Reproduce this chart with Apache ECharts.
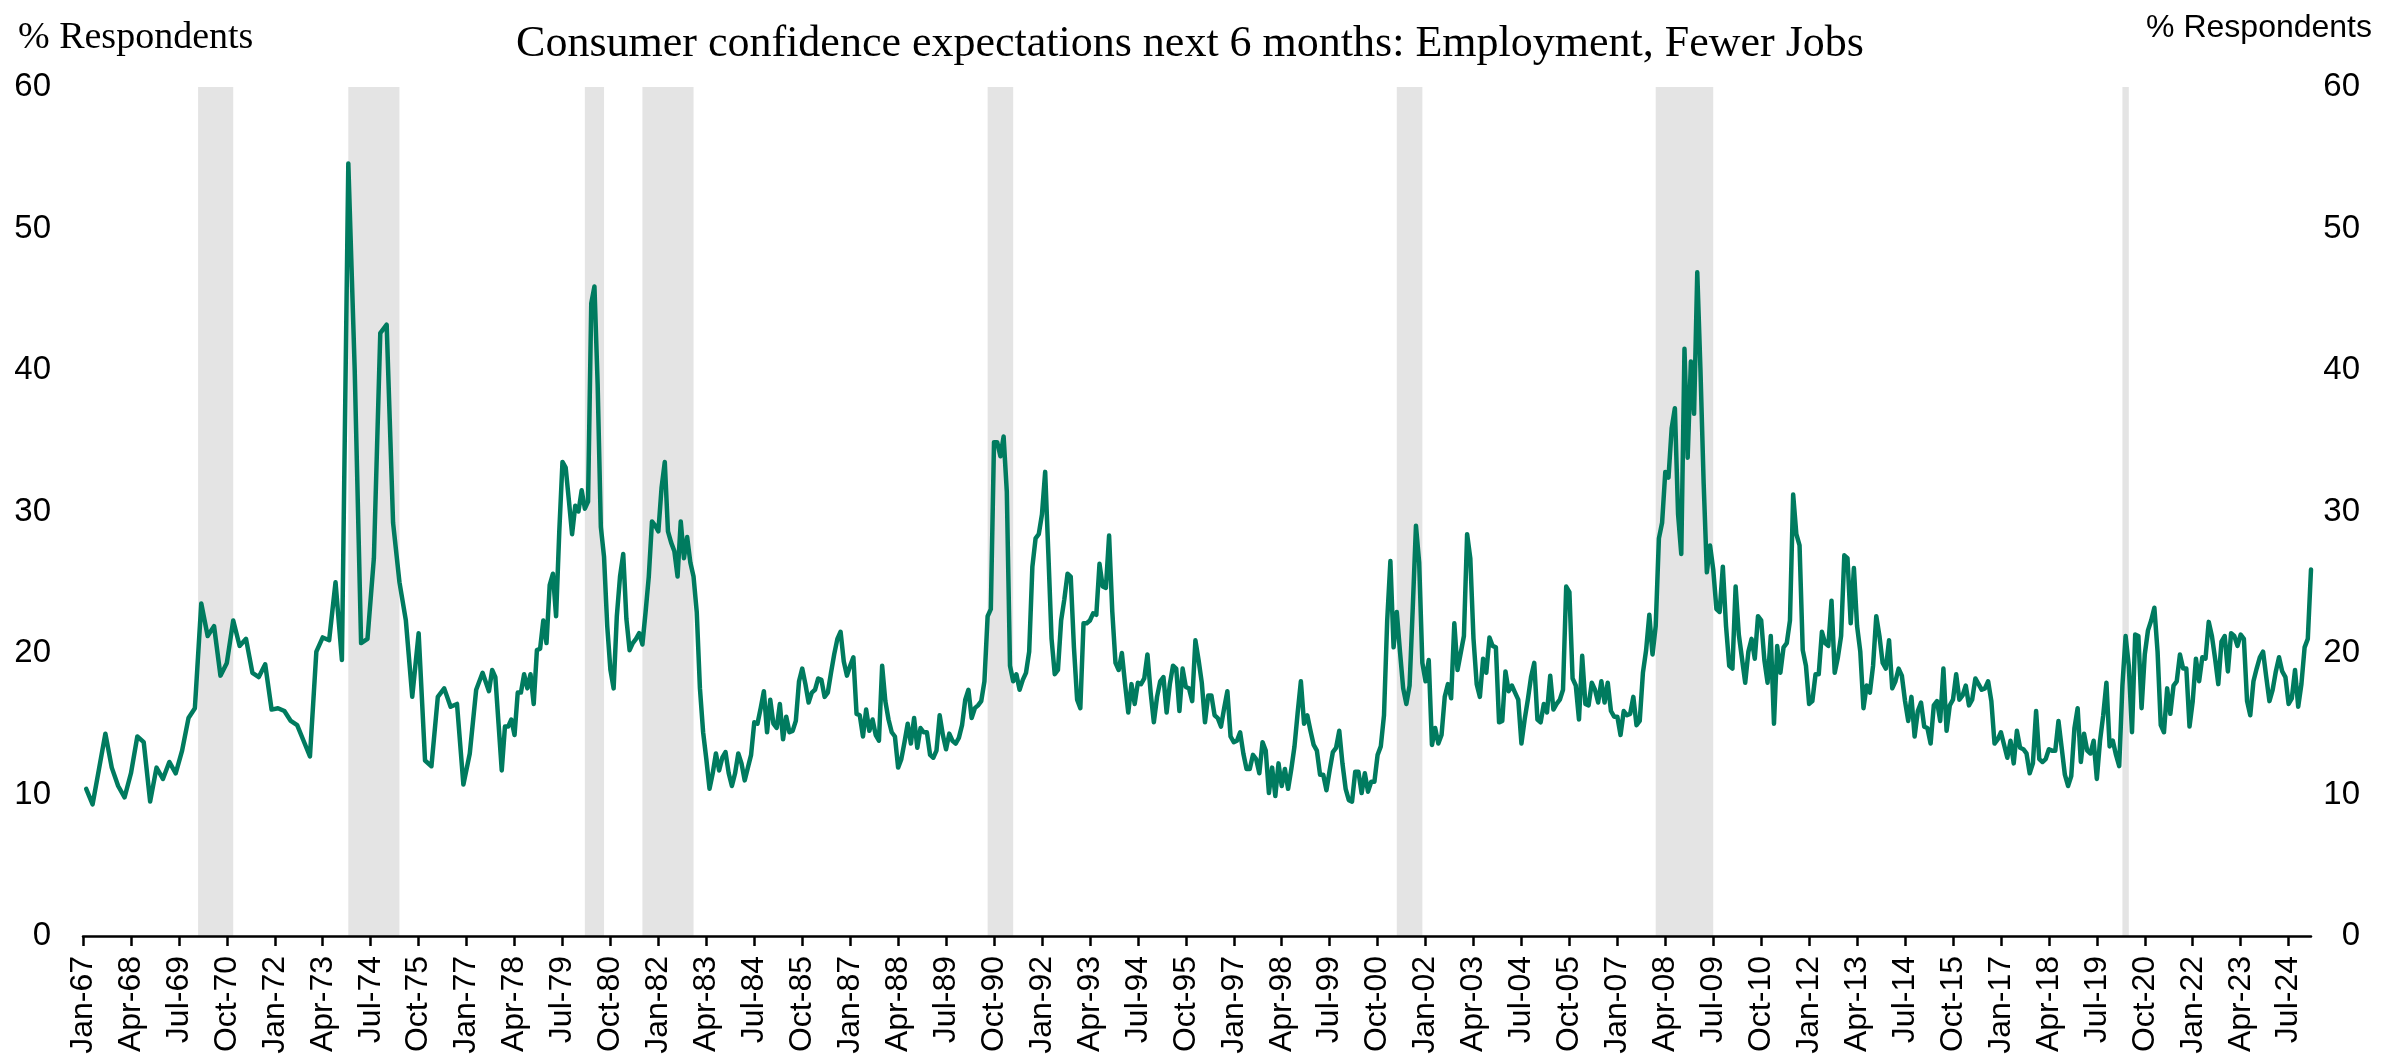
<!DOCTYPE html>
<html>
<head>
<meta charset="utf-8">
<title>Consumer confidence expectations: Employment, Fewer Jobs</title>
<script src="https://cdn.jsdelivr.net/npm/echarts@6/dist/echarts.min.js"></script>
<style>
  html, body { margin: 0; padding: 0; background: #fff; }
  #chart-root { width: 2389px; height: 1064px; }
</style>
</head>
<body>
<div id="chart-root"></div>
<script>
// survey was bi-monthly until 1977: Feb-67, Apr-67, ... (every other month)
const bimonthly67to77 = [
  10.4, 9.3, 11.8, 14.3, 11.9, 10.6, 9.8, 11.5, 14.1, 13.7,
  9.5, 11.9, 11.1, 12.3, 11.5, 13.1, 15.4, 16.1, 23.5, 21.2,
  21.9, 18.4, 19.3, 22.3, 20.5, 21.0, 18.6, 18.3, 19.2, 16.0,
  16.1, 15.9, 15.2, 14.9, 13.8, 12.7, 20.1, 21.1, 20.9, 25.0,
  19.5, 54.6, 40.0, 20.7, 21.0, 26.7, 42.6, 43.2, 29.2, 25.0,
  22.3, 16.9, 21.4, 12.4, 12.0, 16.9, 17.5, 16.2, 16.4, 10.7,
  12.9, 17.4, 18.6, 17.3
];
// monthly from Sep-77
const monthly77to84 = [
  18.8, 18.3, 15.0, 11.7, 14.8, 14.8, 15.3, 14.2, 17.2, 17.2,
  18.5, 17.5, 18.5, 16.4, 20.2, 20.3, 22.3, 20.7, 24.8, 25.6,
  22.6, 28.6, 33.5, 33.1, 30.8, 28.4, 30.4, 30.0, 31.5, 30.2,
  30.7, 44.7, 45.9, 39.0, 28.9, 26.8, 21.9, 18.8, 17.5, 22.6,
  25.4, 27.0, 22.4, 20.2, 20.7, 21.0, 21.4, 20.6, 22.9, 25.4,
  29.3, 29.0, 28.6, 31.7, 33.5, 28.6, 27.8, 27.2, 25.4, 29.3,
  26.7, 28.2, 26.4, 25.4, 22.9, 17.5, 14.4, 12.5, 10.4, 11.5,
  12.9, 11.7, 12.6, 13.0, 11.5, 10.6, 11.5, 12.9, 12.2, 11.0,
  11.9, 12.8, 15.1, 15.0, 16.1, 17.3, 14.4, 16.7
];
const monthly85to92 = [
  15.0, 14.7, 16.4, 13.9, 15.5, 14.4, 14.5, 15.2, 18.0, 18.9,
  17.8, 16.5, 17.2, 17.4, 18.2, 18.1, 16.9, 17.2, 18.6, 19.9,
  21.0, 21.5, 19.4, 18.4, 19.1, 19.7, 15.7, 15.6, 14.1, 16.0,
  14.5, 15.3, 14.2, 13.8, 19.1, 16.6, 15.3, 14.4, 14.1, 11.9,
  12.5, 13.7, 15.0, 13.6, 15.4, 13.3, 14.7, 14.4, 14.4, 12.8,
  12.6, 13.1, 15.6, 14.2, 13.2, 14.3, 13.8, 13.6, 14.0, 14.9,
  16.7, 17.4, 15.4, 16.1, 16.3, 16.6, 18.0, 22.6, 23.1, 34.9,
  34.9, 33.9, 35.3, 31.4, 19.1, 18.0, 18.5, 17.4, 18.1, 18.6,
  20.1, 26.1, 28.1, 28.4, 29.8, 32.8, 27.0, 21.0, 18.5, 18.8,
  22.3, 23.8, 25.6, 25.4, 20.4, 16.7
];
const monthly93to00 = [
  16.1, 22.1, 22.1, 22.3, 22.8, 22.7, 26.3, 24.7, 24.6, 28.3,
  22.9, 19.3, 18.8, 20.0, 17.8, 15.8, 17.8, 16.4, 17.9, 17.8,
  18.2, 19.9, 17.2, 15.1, 16.9, 18.0, 18.3, 15.8, 17.8, 19.1,
  18.9, 15.9, 18.9, 17.6, 17.5, 16.6, 20.9, 19.5, 17.9, 15.1,
  17.0, 17.0, 15.6, 15.4, 14.8, 16.1, 17.3, 14.1, 13.7, 13.8,
  14.4, 12.9, 11.8, 11.8, 12.8, 12.5, 11.5, 13.7, 13.1, 10.1,
  11.9, 9.9, 12.2, 10.6, 11.8, 10.4, 11.8, 13.4, 15.8, 18.0,
  15.0, 15.6, 14.5, 13.5, 13.1, 11.4, 11.4, 10.3, 11.7, 13.0,
  13.3, 14.5, 12.2, 10.4, 9.6, 9.5, 11.6, 11.6, 10.1, 11.5,
  10.2, 10.9, 10.9, 12.8, 13.4, 15.6
];
const monthly01to08 = [
  22.3, 26.5, 20.4, 22.9, 20.1, 17.5, 16.4, 17.7, 23.2, 29.0,
  26.4, 19.3, 18.0, 19.5, 13.5, 14.7, 13.6, 14.2, 16.9, 17.8,
  16.8, 22.1, 18.8, 20.0, 21.2, 28.4, 26.7, 21.0, 17.8, 16.9,
  19.6, 18.6, 21.1, 20.5, 20.4, 15.1, 15.2, 18.7, 17.3, 17.7,
  17.2, 16.7, 13.6, 15.3, 16.7, 18.3, 19.3, 15.3, 15.1, 16.4,
  15.8, 18.4, 16.0, 16.4, 16.7, 17.4, 24.7, 24.3, 18.2, 17.7,
  15.3, 19.8, 16.4, 16.3, 17.9, 17.4, 16.5, 18.0, 16.5, 17.9,
  15.9, 15.5, 15.5, 14.2, 15.9, 15.6, 15.7, 16.9, 14.9, 15.2,
  18.6, 20.2, 22.7, 19.9, 21.9, 28.1, 29.2, 32.8, 32.4, 35.9,
  37.3, 29.8, 27.0, 41.5, 33.8, 40.6
];
const monthly09to16 = [
  36.9, 46.9, 40.0, 32.0, 25.7, 27.6, 25.9, 23.1, 22.9, 26.1,
  21.9, 19.1, 18.9, 24.7, 21.3, 19.6, 17.9, 20.1, 21.0, 19.6,
  22.6, 22.3, 19.5, 17.9, 21.2, 15.0, 20.5, 18.6, 20.4, 20.7,
  22.3, 31.2, 28.4, 27.6, 20.2, 19.1, 16.4, 16.6, 18.5, 18.5,
  21.5, 20.7, 20.5, 23.7, 18.6, 19.7, 21.2, 26.9, 26.7, 22.1,
  26.0, 21.9, 20.1, 16.1, 17.7, 17.2, 19.1, 22.6, 21.2, 19.3,
  18.9, 20.9, 17.5, 18.0, 18.9, 18.4, 16.6, 15.2, 16.9, 14.1,
  15.9, 16.5, 14.8, 14.7, 13.6, 16.3, 16.6, 15.2, 18.9, 14.5,
  16.3, 16.7, 18.5, 16.7, 17.0, 17.7, 16.3, 16.7, 18.2, 17.8,
  17.4, 17.5, 18.0, 16.6, 13.6, 13.9
];
const monthly17to25 = [
  14.4, 13.5, 12.6, 13.8, 12.2, 14.5, 13.3, 13.2, 12.9, 11.5,
  12.2, 15.9, 12.5, 12.3, 12.5, 13.2, 13.1, 13.1, 15.2, 13.3,
  11.4, 10.6, 11.3, 14.7, 16.1, 12.3, 14.3, 13.1, 12.9, 13.8,
  11.1, 13.8, 15.6, 17.9, 13.4, 13.8, 12.8, 12.0, 17.7, 21.2,
  19.1, 14.4, 21.3, 21.2, 16.1, 19.9, 21.6, 22.3, 23.2, 20.1,
  14.9, 14.4, 17.5, 15.7, 17.7, 18.0, 19.9, 18.9, 18.9, 14.8,
  16.6, 19.6, 18.0, 19.7, 19.6, 22.2, 21.2, 19.6, 17.8, 20.8,
  21.2, 18.7, 21.4, 21.2, 20.5, 21.3, 21.0, 16.6, 15.6, 18.0,
  18.9, 19.7, 20.1, 18.3, 16.6, 17.4, 18.7, 19.7, 18.7, 18.3,
  16.4, 16.8, 18.8, 16.2, 17.8, 20.4, 21.0, 25.9
];

const monthNames = ["Jan", "Feb", "Mar", "Apr", "May", "Jun",
                    "Jul", "Aug", "Sep", "Oct", "Nov", "Dec"];
const firstYear = 1967;
const monthCount = 698; // Jan-67 .. Feb-25

// shaded recession periods (first month, last month)
const recessions = [
  ["Jan-70", "Dec-70"],
  ["Dec-73", "Apr-75"],
  ["Feb-80", "Aug-80"],
  ["Aug-81", "Dec-82"],
  ["Aug-90", "Apr-91"],
  ["Apr-01", "Dec-01"],
  ["Jan-08", "Jul-09"],
  ["Mar-20", "May-20"]
];

const yTicks = { min: 0, max: 60, step: 10 };

let categories = [];
for (let i = 0; i < monthCount; i++) {
  let yy = (firstYear + Math.floor(i / 12)) % 100;
  categories.push(monthNames[i % 12] + "-" + (yy < 10 ? "0" : "") + yy);
}

let monthly = [].concat(monthly77to84, monthly85to92, monthly93to00,
                        monthly01to08, monthly09to16, monthly17to25);
let firstMonthly = 2 * bimonthly67to77.length; // index of Sep-77
let seriesData = [];
for (let i = 0; i < monthCount; i++) {
  if (i < firstMonthly) {
    seriesData.push(i % 2 === 1 ? bimonthly67to77[(i - 1) / 2] : null);
  } else {
    let v = monthly[i - firstMonthly];
    seriesData.push(v === undefined ? null : v);
  }
}

let chart = echarts.init(document.getElementById("chart-root"));

let option = {
  animation: false,
  backgroundColor: "#ffffff",
  grid: {
    left: 83,
    right: 78,
    top: 87,
    bottom: 128
  },
  graphic: [
    {
      type: "text",
      x: 1190,
      y: 44,
      style: {
        text: "Consumer confidence expectations next 6 months: Employment, Fewer Jobs",
        font: '44px "Liberation Serif"',
        fill: "#000",
        align: "center",
        textAlign: "center",
        verticalAlign: "middle",
        textVerticalAlign: "middle"
      }
    },
    {
      type: "text",
      x: 18,
      y: 38,
      style: {
        text: "% Respondents",
        font: '38px "Liberation Serif"',
        fill: "#000",
        align: "left",
        textAlign: "left",
        verticalAlign: "middle",
        textVerticalAlign: "middle"
      }
    },
    {
      type: "text",
      x: 2372,
      y: 28,
      style: {
        text: "% Respondents",
        font: '32px "Liberation Sans"',
        fill: "#000",
        align: "right",
        textAlign: "right",
        verticalAlign: "middle",
        textVerticalAlign: "middle"
      }
    }
  ],
  xAxis: {
    type: "category",
    boundaryGap: false,
    data: categories,
    z: 5,
    axisLine: {
      lineStyle: { color: "#000", width: 2.5 }
    },
    axisTick: {
      interval: 14,
      length: 10,
      lineStyle: { color: "#000", width: 2.5 }
    },
    axisLabel: {
      interval: 14,
      rotate: 90,
      margin: 20,
      color: "#000",
      fontFamily: "Liberation Sans",
      fontSize: 32
    },
    splitLine: { show: false }
  },
  yAxis: [
    {
      type: "value",
      position: "left",
      min: yTicks.min,
      max: yTicks.max,
      interval: yTicks.step,
      axisLine: { show: false },
      axisTick: { show: false },
      splitLine: { show: false },
      axisLabel: {
        margin: 32,
        color: "#000",
        fontFamily: "Liberation Sans",
        fontSize: 33
      }
    },
    {
      type: "value",
      position: "right",
      min: yTicks.min,
      max: yTicks.max,
      interval: yTicks.step,
      axisLine: { show: false },
      axisTick: { show: false },
      splitLine: { show: false },
      axisLabel: {
        margin: 49,
        align: "right",
        color: "#000",
        fontFamily: "Liberation Sans",
        fontSize: 33
      }
    }
  ],
  series: [
    {
      name: "Fewer Jobs",
      type: "line",
      data: seriesData,
      connectNulls: true,
      showSymbol: false,
      lineStyle: {
        color: "#007b5f",
        width: 4.5,
        join: "round",
        cap: "round"
      },
      itemStyle: { color: "#007b5f" },
      markArea: {
        silent: true,
        itemStyle: { color: "#e4e4e4" },
        data: recessions.map(r => [{ xAxis: r[0] }, { xAxis: r[1] }])
      }
    }
  ]
};

chart.setOption(option);
</script>
</body>
</html>
